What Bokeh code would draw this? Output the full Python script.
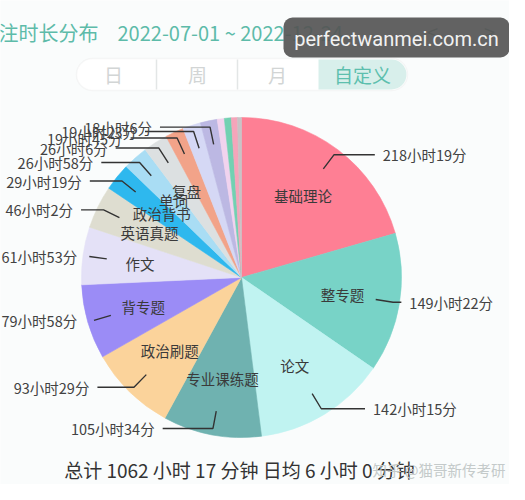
import numpy as np
from bokeh.plotting import figure
from bokeh.models import Range1d, BoxAnnotation, ColumnDataSource
from bokeh.core.properties import value
from bokeh.embed import file_html
from bokeh.resources import INLINE

# ---------------- data ----------------
categories = ["基础理论", "整专题", "论文", "专业课练题", "政治刷题", "背专题", "作文",
              "英语真题", "政治背书", "单词", "复盘", "", "", "", "", "", "", ""]
hours = [218, 149, 142, 105, 93, 79, 61, 46, 29, 26, 26, 19, 19, 18, 7, 7, 6, 4]
minutes = [19, 22, 15, 34, 29, 58, 53, 2, 19, 58, 6, 45, 23, 6, 36, 24, 36, 12]
colors = ["#FE7F94", "#78D3C7", "#C0F3F1", "#6FB2B0", "#FBD39B", "#9B8CF6", "#E4E1F7",
          "#DEDDD0", "#2EB8EE", "#A9DDF4", "#DCE0E1", "#F2A389", "#D5D8F5", "#BCB8E3",
          "#F1D3EE", "#72D1B2", "#F5A5BA", "#C9C3C6"]
title_text = "注时长分布"
date_range = "2022-07-01 ~ 2022-12-24"
tabs = ["日", "周", "月", "自定义"]
daily_avg = "日均 6 小时 0 分钟"
watermark = "perfectwanmei.com.cn"
credit = "知乎 @猫哥新传考研"

# ---------------- layout ----------------
W, H = 509, 484
FONT = value("Noto Sans CJK SC")
FS = 14.5


def X(x):
    return x


def Y(y):
    return H - y


def text_width(t, fs):
    return sum(fs * (0.55 if ord(ch) < 128 else 1.0) for ch in t)


p = figure(width=W, height=H, x_range=Range1d(0, W), y_range=Range1d(0, H),
           output_backend="svg", toolbar_location=None, min_border=0,
           x_axis_type=None, y_axis_type=None)
p.grid.visible = False
p.outline_line_color = None
p.background_fill_color = "#FAFCFC"
p.border_fill_color = "#FAFCFC"

# ---------------- pie ----------------
vals = np.array(hours) * 60 + np.array(minutes)
frac = vals / vals.sum()
ends = np.cumsum(frac) * 2 * np.pi
starts = ends - frac * 2 * np.pi
mids = (starts + ends) / 2
cx, cy, R = X(241), Y(277), 160.0

src = ColumnDataSource(dict(start=np.pi / 2 - starts, end=np.pi / 2 - ends, color=colors))
p.wedge(x=cx, y=cy, radius=R, start_angle="start", end_angle="end", direction="clock",
        fill_color="color", line_color="color", line_width=0.6, source=src)

# inner name labels
lab_r = R * 0.64
ix, iy, it = [], [], []
for name, m in zip(categories, mids):
    if name:
        ix.append(cx + lab_r * np.sin(m))
        iy.append(cy + lab_r * np.cos(m))
        it.append(name)
p.text(x=ix, y=iy, text=it, text_align="center", text_baseline="middle",
       text_font=FONT, text_font_size=f"{FS}px", text_color="#3A3A3A")

# outer value labels with leader lines
xs, ys = [], []
groups = {"left": ([], [], []), "right": ([], [], [])}
for h, mn, v, m in zip(hours, minutes, vals, mids):
    if v < 15 * 60:
        continue
    s, c = np.sin(m), np.cos(m)
    label = f"{h}小时{mn}分"
    p0 = (cx + 0.85 * R * s, cy + 0.85 * R * c)
    p1 = (cx + lab_r * 1.5 * s, cy + lab_r * 1.5 * c)
    w = lab_r * 0.5 * abs(c)
    if s > 0:
        p2x = p1[0] + w
        g, tx = "right", p2x + 8
    else:
        p2x = p1[0] - w
        tx = p2x - 8
        g = "right" if False else "left"
        tw = text_width(label, FS)
        if tx - tw < 1:
            # would be cut by the left edge: pin the label to the edge
            p2x = p1[0]
            g, tx = "pin", 1
    xs.append([p0[0], p1[0], p2x])
    ys.append([p0[1], p1[1], p1[1]])
    groups.setdefault(g, ([], [], []))
    groups[g][0].append(tx); groups[g][1].append(p1[1]); groups[g][2].append(label)

p.multi_line(xs=xs, ys=ys, line_color="#333333", line_width=1.4)
for g, align in (("right", "left"), ("left", "right"), ("pin", "left")):
    if g in groups and groups[g][0]:
        gx, gy, gt = groups[g]
        p.text(x=gx, y=gy, text=gt, text_align=align, text_baseline="middle",
               text_font=FONT, text_font_size=f"{FS}px", text_color="#424242")

# ---------------- header ----------------
p.text(x=[X(-2)], y=[Y(32)], text=[title_text], text_align="left", text_baseline="middle",
       text_font=FONT, text_font_size="20px", text_color="#5DBBA9")
p.text(x=[X(117)], y=[Y(32)], text=[date_range], text_align="left", text_baseline="middle",
       text_font=FONT, text_font_size="20px", text_color="#5DBBA9")
p.text(x=[X(432), X(489)], y=[Y(31), Y(31)], text=["<", ">"], text_align="center",
       text_baseline="middle", text_font=FONT, text_font_size="20px", text_color="#7FA39C")

# watermark box (drawn over the header)
p.add_layout(BoxAnnotation(left=X(283), right=X(509), top=Y(17), bottom=Y(57),
                           fill_color="#555555", fill_alpha=0.92, line_color=None,
                           border_radius=9, level="annotation"))
wm = p.text(x=[X(396)], y=[Y(38)], text=[watermark], text_align="center", text_baseline="middle",
            text_font=value("Roboto"), text_font_size="20px", text_color="#F2F2F2")
wm.level = "overlay"

# segmented control
p.add_layout(BoxAnnotation(left=X(76), right=X(407), top=Y(58), bottom=Y(90),
                           fill_color="#FFFFFF", fill_alpha=1, line_color="#E3E6E6",
                           line_width=1.5, border_radius=16, level="underlay"))
p.add_layout(BoxAnnotation(left=X(318), right=X(406), top=Y(59), bottom=Y(89),
                           fill_color="#D8EFEB", fill_alpha=1, line_color=None,
                           border_radius=dict(top_left=0, bottom_left=0, top_right=15, bottom_right=15),
                           level="underlay"))
p.segment(x0=[X(156), X(237)], y0=[Y(59)] * 2, x1=[X(156), X(237)], y1=[Y(89)] * 2,
          line_color="#E3E6E6", line_width=1.5)
p.text(x=[X(113), X(197), X(277)], y=[Y(74)] * 3, text=tabs[:3], text_align="center",
       text_baseline="middle", text_font=FONT, text_font_size="19px", text_color="#D2D5D5")
p.text(x=[X(362)], y=[Y(74)], text=[tabs[3]], text_align="center",
       text_baseline="middle", text_font=FONT, text_font_size="19px", text_color="#5DBFAE")

# ---------------- footer ----------------
total_min = int(vals.sum())
footer = f"总计 {total_min // 60} 小时 {total_min % 60} 分钟 {daily_avg}"
p.text(x=[X(239)], y=[Y(469)], text=[footer], text_align="center", text_baseline="middle",
       text_font=FONT, text_font_size="19px", text_color="#333333")
p.text(x=[X(505)], y=[Y(469)], text=[credit], text_align="right", text_baseline="middle",
       text_font=FONT, text_font_size="14.5px", text_color="#C4CACA")

open("out.html", "w").write(file_html(p, INLINE))
